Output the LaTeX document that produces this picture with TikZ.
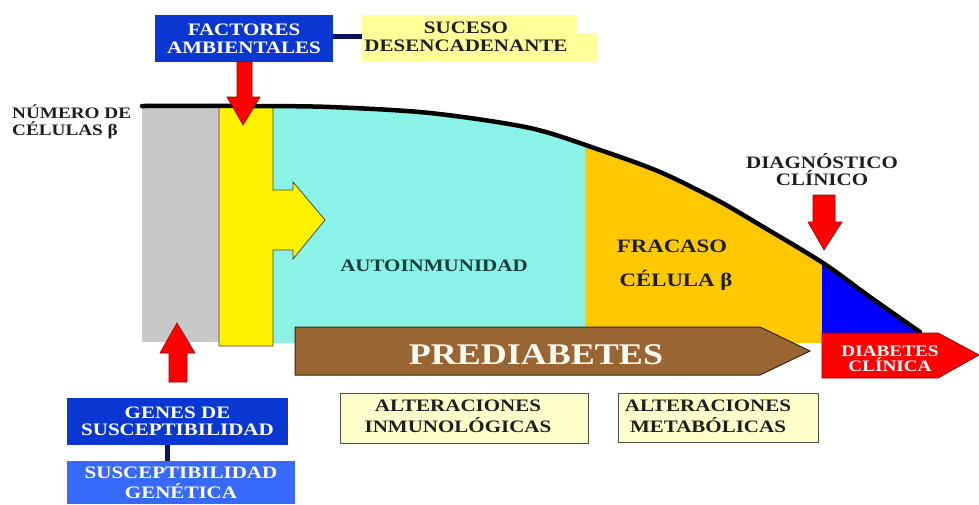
\documentclass[tikz,border=0pt]{standalone}
\usepackage{fontspec}
\newfontfamily\tf[FakeStretch=1.2]{Liberation Serif}
\definecolor{grayfill}{RGB}{200,200,200}
\definecolor{cyanfill}{RGB}{138,242,230}
\definecolor{orangefill}{RGB}{255,200,0}
\definecolor{brownfill}{RGB}{153,102,51}
\definecolor{boxblue}{RGB}{10,55,210}
\definecolor{lightblue}{RGB}{55,105,250}
\definecolor{paleyellow}{RGB}{255,255,204}
\definecolor{sucesoyellow}{RGB}{255,255,153}
\definecolor{navyline}{RGB}{10,20,90}
\definecolor{ink}{RGB}{30,30,30}
\definecolor{aitext}{RGB}{25,60,60}
\definecolor{arrowred}{RGB}{255,0,0}
\definecolor{arrowedge}{RGB}{140,0,0}
\definecolor{pretext}{RGB}{255,250,240}
\begin{document}
\begin{tikzpicture}[x=1pt,y=-1pt,
  fs/.style args={#1/#2}{font=\tf\bfseries\fontsize{#1}{#2}\selectfont},
  txt/.style={text=ink, inner sep=0pt, align=center},
  bluebox/.style={fill=boxblue, text=white, inner sep=0pt, align=center},
  altbox/.style={fill=paleyellow, draw=black!70, line width=1pt, inner sep=0pt},
  redarrow/.style={fill=arrowred, draw=arrowedge, line width=0.6pt},
  conn/.style={draw=navyline, line width=5pt}]
\useasboundingbox (0,0) rectangle (979,504);

% coloured areas under the curve
\begin{scope}
  \clip (142,106) -- plot[smooth, tension=0.5] coordinates {(142,106) (250,106) (330,107) (430,113) (530,128) (600,150) (660,172) (717,200) (760,225) (823,263) (870,297) (920,332)} -- (920,343) -- (142,343) -- cycle;
  \fill[grayfill] (142,90) rectangle (219,342);
  \fill[cyanfill] (219,90) rectangle (585,343);
  \fill[orangefill] (585,90) rectangle (822,343);
  \fill[blue] (822,90) rectangle (930,343);
\end{scope}

% yellow bar with arrow
\draw[fill=yellow, draw=black!60!olive, line width=0.8pt]
  (219,107) -- (273,107) -- (273,190) -- (293,190) -- (293,182) -- (325,220)
  -- (293,259) -- (293,250) -- (273,250) -- (273,346) -- (219,346) -- cycle;

% curve of beta cell number
\draw[line width=4.5pt, line cap=round] plot[smooth, tension=0.5] coordinates {(142,106) (250,106) (330,107) (430,113) (530,128) (600,150) (660,172) (717,200) (760,225) (823,263) (870,297) (920,332)};

% prediabetes arrow
\draw[fill=brownfill, draw=black!70!brown, line width=1pt]
  (295,327) -- (760,327) -- (810,351) -- (760,375) -- (295,375) -- cycle;
\node[fs=30/30, text=pretext, inner sep=0pt] (prediabetes) at (536,355) {PREDIABETES};

% diabetes clinica arrow
\draw[fill=arrowred, draw=arrowedge, line width=0.8pt]
  (822,333) -- (938,333) -- (979,355) -- (938,378) -- (822,378) -- cycle;
\node[fs=16/15, text=white, inner sep=0pt, align=center] (diabetes) at (890,358.5) {DIABETES\\CLÍNICA};

% texts in areas
\node[fs=17.5/18, text=aitext, inner sep=0pt] (autoinm) at (434,266) {AUTOINMUNIDAD};
\node[fs=19/19, txt] (fracaso) at (672,246.5) {FRACASO};
\node[fs=19/19, txt] (celula) at (676,280) {CÉLULA β};

% top boxes
\node[bluebox, fs=17.5/18, minimum width=178pt, minimum height=47pt] (factores) at (244,38.5) {FACTORES\\AMBIENTALES};
\fill[sucesoyellow] (362,15) rectangle (577,35);
\fill[sucesoyellow] (362,33) rectangle (597,61);
\coordinate (sucesoleft) at (362,36);
\node[fs=17.5/18, txt] (suceso) at (466,36.5) {SUCESO\\DESENCADENANTE};
\draw[conn] (factores.east |- sucesoleft) -- (sucesoleft);

% red arrows
\draw[redarrow] (237,62) -- (252,62) -- (252,97) -- (260,97) -- (243,125) -- (227,97) -- (237,97) -- cycle;
\draw[redarrow] (169,382) -- (187,382) -- (187,353) -- (195,353) -- (177,323) -- (160,353) -- (169,353) -- cycle;
\draw[redarrow] (813,195) -- (835,195) -- (835,222) -- (842,222) -- (824,250) -- (808,222) -- (813,222) -- cycle;

% left label
\node[fs=16/17, txt, align=left, anchor=north west] (numero) at (12,105) {NÚMERO DE\\CÉLULAS β};

% diagnostico
\node[fs=17.5/17, txt] (diagnostico) at (822,169.5) {DIAGNÓSTICO\\CLÍNICO};

% bottom boxes
\node[bluebox, fs=17.5/17, minimum width=221pt, minimum height=47pt] (genes) at (177.5,421.5) {GENES DE\\SUSCEPTIBILIDAD};
\node[fill=lightblue, text=white, inner sep=0pt, align=center, fs=17.5/20, minimum width=228pt, minimum height=43pt] (susc) at (181,482.5) {SUSCEPTIBILIDAD\\GENÉTICA};
\draw[conn] (genes.south -| 167,0) -- (susc.north -| 167,0);

\node[altbox, minimum width=248pt, minimum height=50pt] (inmunobox) at (464,418) {};
\node[fs=17.5/21, txt] (inmuno) at (458,416.5) {ALTERACIONES\\INMUNOLÓGICAS};
\node[altbox, minimum width=200pt, minimum height=49pt] (metabox) at (718,417.5) {};
\node[fs=17.5/21, txt] (metab) at (708,416.5) {ALTERACIONES\\METABÓLICAS};
\end{tikzpicture}
\end{document}
